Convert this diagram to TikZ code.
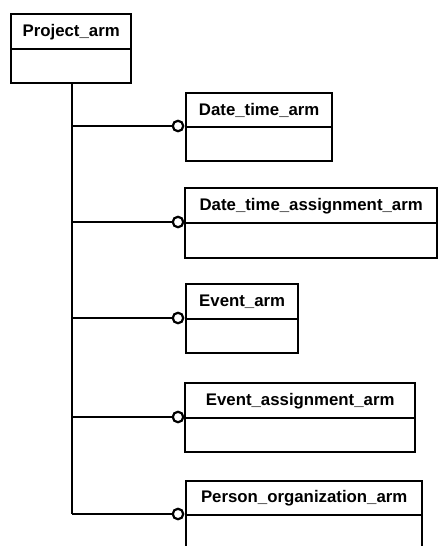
\documentclass[tikz,border=0pt]{standalone}
\usepackage{fontspec}
\setmainfont{Liberation Sans}
\begin{document}
\begin{tikzpicture}[x=1pt,y=-1pt,
  hdr/.style={draw,line width=2.4pt,inner sep=0pt,anchor=north west,font=\fontsize{16.8}{18}\selectfont\bfseries},
  bdy/.style={draw,line width=2.4pt,inner sep=0pt,anchor=north west},
  link/.style={line width=1.5pt},
  trunkline/.style={line width=2.4pt},
  ring/.style={circle,draw,fill=white,line width=2.2pt,minimum size=10.5pt,inner sep=0pt}]
\useasboundingbox (0,0) rectangle (439,546);
\clip (0,0) rectangle (439,546);
% Project_arm
\node[hdr,minimum width=120pt,minimum height=35pt] (ph) at (10,13) {Project\_arm};
\node[bdy,minimum width=120pt,minimum height=34pt] (pb) at (10,48) {};
\coordinate (top) at (72,82);
\coordinate (bot) at (72,514);
\draw[trunkline] (top) -- (bot);
% boxes
\node[hdr,minimum width=146pt,minimum height=34pt] (h1) at (185,92) {Date\_time\_arm};
\node[bdy,minimum width=146pt,minimum height=34pt] (b1) at (185,126) {};
\node[hdr,minimum width=252pt,minimum height=35pt] (h2) at (184,187) {Date\_time\_assignment\_arm};
\node[bdy,minimum width=252pt,minimum height=35pt] (b2) at (184,222) {};
\node[hdr,minimum width=112pt,minimum height=35pt] (h3) at (185,283) {Event\_arm};
\node[bdy,minimum width=112pt,minimum height=34pt] (b3) at (185,318) {};
\node[hdr,minimum width=230pt,minimum height=35pt] (h4) at (184,382) {Event\_assignment\_arm};
\node[bdy,minimum width=230pt,minimum height=34pt] (b4) at (184,417) {};
\node[hdr,minimum width=236pt,minimum height=34pt] (h5) at (185,480) {Person\_organization\_arm};
\node[bdy,minimum width=236pt,minimum height=44pt] (b5) at (185,514) {};
% connectors
\foreach \i/\yy in {1/126,2/222,3/318,4/417,5/514}{
  \coordinate (t\i) at (72,\yy);
  \node[ring] (c\i) at (178,\yy) {};
  \draw[link] (t\i) -- (c\i);
}
\end{tikzpicture}
\end{document}
